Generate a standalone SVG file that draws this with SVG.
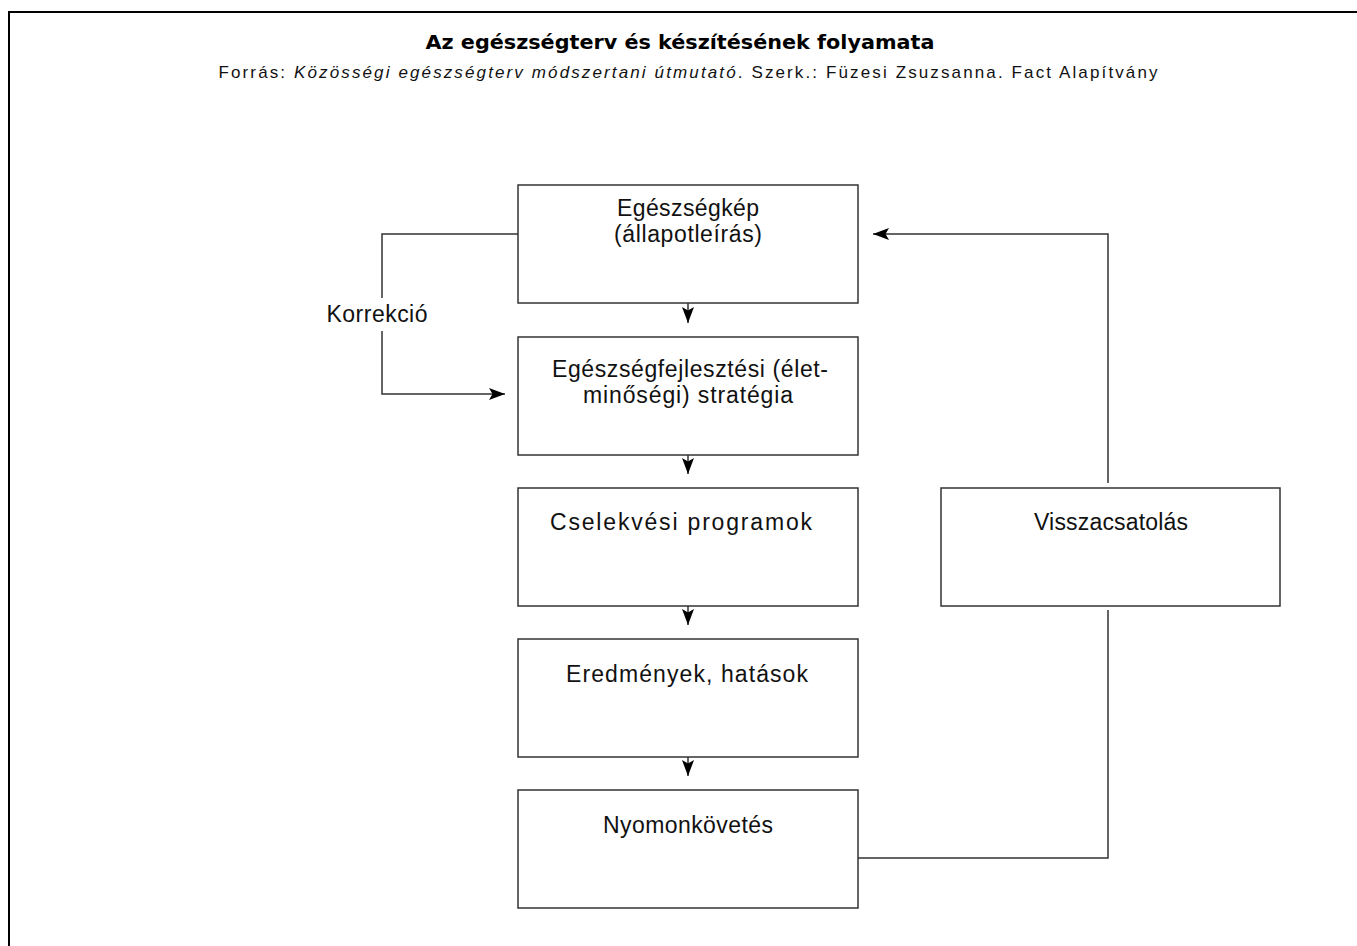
<svg xmlns="http://www.w3.org/2000/svg" width="1357" height="946" viewBox="0 0 1357 946">
<defs>
<style>
.frame{fill:none;stroke:#000;stroke-width:2}
.box{fill:#fff;stroke:#333;stroke-width:1.5}
.con{fill:none;stroke:#333;stroke-width:1.5}
.t{font-family:"Liberation Sans",Arial,sans-serif;font-size:23px;fill:#111;text-anchor:middle}
.title{font-family:"DejaVu Sans","Liberation Sans",sans-serif;font-size:20px;font-weight:bold;fill:#000;text-anchor:middle}
.src{font-family:"Liberation Sans",Arial,sans-serif;font-size:17px;fill:#111;text-anchor:middle}
</style>
<marker id="arr" viewBox="0 0 16 12" refX="16" refY="6" markerWidth="16" markerHeight="12" markerUnits="userSpaceOnUse" orient="auto">
<path d="M0,0 L16,6 L0,12 L3.5,6 Z" fill="#000"/>
</marker>
</defs>
<rect width="1357" height="946" fill="#fff"/>
<path class="frame" d="M9,960 V12 H1370"/>
<g id="header">
<text class="title" x="680" y="49" textLength="509" lengthAdjust="spacingAndGlyphs">Az egészségterv és készítésének folyamata</text>
<text class="src" x="688" y="78" textLength="939" lengthAdjust="spacing">Forrás: <tspan font-style="italic">Közösségi egészségterv módszertani útmutató</tspan>. Szerk.: Füzesi Zsuzsanna. Fact Alapítvány</text>
</g>
<g id="connectors">
<line class="con" x1="688" y1="280" x2="688" y2="323" marker-end="url(#arr)"/>
<line class="con" x1="688" y1="431" x2="688" y2="474" marker-end="url(#arr)"/>
<line class="con" x1="688" y1="582" x2="688" y2="625" marker-end="url(#arr)"/>
<line class="con" x1="688" y1="733" x2="688" y2="776" marker-end="url(#arr)"/>
<path class="con" d="M518,234 H382 V298"/>
<path class="con" d="M382,331 V394 H505" marker-end="url(#arr)"/>
<path class="con" d="M858,858 H1108 V610"/>
<path class="con" d="M1108,483 V234 H873" marker-end="url(#arr)"/>
<text class="t" x="377" y="322" textLength="101" lengthAdjust="spacing">Korrekció</text>
</g>
<g id="n1">
<rect class="box" x="518" y="185" width="340" height="118"/>
<text class="t" x="688" y="216" textLength="142" lengthAdjust="spacing">Egészségkép</text>
<text class="t" x="688" y="242" textLength="148" lengthAdjust="spacing">(állapotleírás)</text>
</g>
<g id="n2">
<rect class="box" x="518" y="337" width="340" height="118"/>
<text class="t" x="690" y="377" textLength="276" lengthAdjust="spacing">Egészségfejlesztési (élet-</text>
<text class="t" x="688" y="403" textLength="210" lengthAdjust="spacing">minőségi) stratégia</text>
</g>
<g id="n3">
<rect class="box" x="518" y="488" width="340" height="118"/>
<text class="t" x="681" y="530" textLength="262" lengthAdjust="spacing">Cselekvési programok</text>
</g>
<g id="n4">
<rect class="box" x="518" y="639" width="340" height="118"/>
<text class="t" x="687" y="682" textLength="242" lengthAdjust="spacing">Eredmények, hatások</text>
</g>
<g id="n5">
<rect class="box" x="518" y="790" width="340" height="118"/>
<text class="t" x="688" y="833" textLength="170" lengthAdjust="spacing">Nyomonkövetés</text>
</g>
<g id="n6">
<rect class="box" x="941" y="488" width="339" height="118"/>
<text class="t" x="1111" y="530" textLength="154" lengthAdjust="spacing">Visszacsatolás</text>
</g>
</svg>
